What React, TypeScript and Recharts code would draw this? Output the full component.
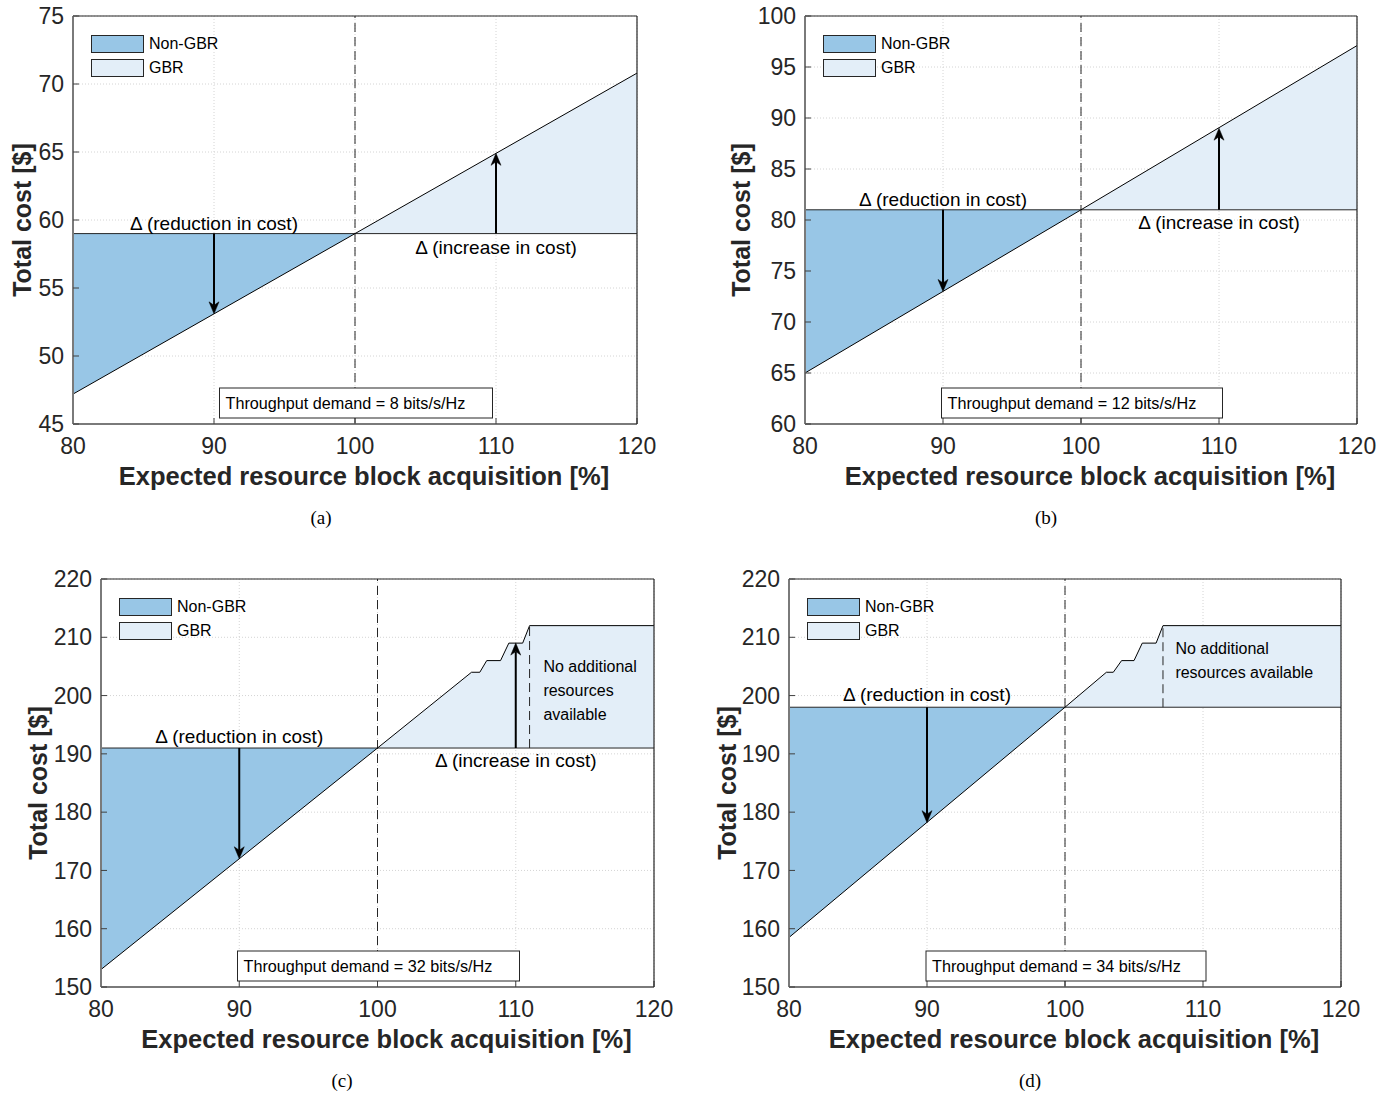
import React from 'react';
import {
  ComposedChart,
  Area,
  Line,
  XAxis,
  YAxis,
  CartesianGrid,
  ReferenceLine,
  ReferenceDot,
  Legend,
} from 'recharts';

const FONT = '"Liberation Sans", Arial, Helvetica, sans-serif';
const SERIF = '"Liberation Serif", "Times New Roman", serif';
const NON_GBR_FILL = '#98c6e6';
const GBR_FILL = '#e3eef8';
const AXIS_DARK = '#262626';

const xTicks = [80, 90, 100, 110, 120];
const seriesNames = ['Non-GBR', 'GBR'];
const xTitle = 'Expected resource block acquisition [%]';
const yTitle = 'Total cost [$]';
const reductionText = '\u0394 (reduction in cost)';
const increaseText = '\u0394 (increase in cost)';

// (a)
const aX = [80, 100, 120];
const aCost = [47.2, 59, 70.8];
const aBase = 59;
const aYTicks = [45, 50, 55, 60, 65, 70, 75];
const aArrowX = [90, 110];
const aArrowTo = [53.1, 64.9];
const aDemand = 'Throughput demand = 8 bits/s/Hz';

// (b)
const bX = [80, 100, 120];
const bCost = [65, 81, 97.1];
const bBase = 81;
const bYTicks = [60, 65, 70, 75, 80, 85, 90, 95, 100];
const bArrowX = [90, 110];
const bArrowTo = [73, 89];
const bDemand = 'Throughput demand = 12 bits/s/Hz';

// (c)
const cX = [80, 100, 106.8, 107.4, 107.9, 108.9, 109.5, 110.5, 111, 120];
const cCost = [153, 191, 204, 204, 206, 206, 209, 209, 212, 212];
const cBase = 191;
const cYTicks = [150, 160, 170, 180, 190, 200, 210, 220];
const cArrowX = [90, 110];
const cArrowTo = [172, 209];
const cCapX = 111;
const cCapTop = 212;
const cNote = ['No additional', 'resources', 'available'];
const cDemand = 'Throughput demand = 32 bits/s/Hz';

// (d)
const dX = [80, 100, 103, 103.5, 104.1, 105, 105.6, 106.6, 107.1, 120];
const dCost = [158.5, 198, 204, 204, 206, 206, 209, 209, 212, 212];
const dBase = 198;
const dYTicks = [150, 160, 170, 180, 190, 200, 210, 220];
const dArrowX = [90];
const dArrowTo = [178.2];
const dCapX = 107.1;
const dCapTop = 212;
const dNote = ['No additional', 'resources available'];
const dDemand = 'Throughput demand = 34 bits/s/Hz';

function buildRows(xs: number[], cost: number[], base: number) {
  return xs.map((x, i) => ({
    x,
    cost: cost[i],
    nonGbr: x <= 100 ? [cost[i], base] : null,
    gbr: x >= 100 ? [base, cost[i]] : null,
  }));
}

const ArrowShape = (props: any) => {
  const { x1, y1, x2, y2 } = props;
  const dir = y2 > y1 ? 1 : -1;
  const headLen = 12;
  const headW = 5;
  const notch = 3.5;
  return (
    <g>
      <line x1={x1} y1={y1} x2={x2} y2={y2 - dir * (headLen - notch)} stroke="#000" strokeWidth={2} />
      <polygon
        points={`${x2},${y2} ${x2 - headW},${y2 - dir * headLen} ${x2},${y2 - dir * (headLen - notch)} ${x2 + headW},${y2 - dir * headLen}`}
        fill="#000"
        stroke="#000"
        strokeWidth={0.5}
      />
    </g>
  );
};

type PanelProps = {
  left: number;
  top: number;
  width: number;
  height: number;
  plot: { l: number; t: number; r: number; b: number };
  xs: number[];
  cost: number[];
  base: number;
  yTicks: number[];
  arrowX: number[];
  arrowTo: number[];
  showIncreaseText: boolean;
  capX?: number;
  capTop?: number;
  note?: string[];
  noteX?: number;
  noteY?: number;
  demand: string;
  demandWidth: number;
  yTitleDist: number;
  reductionDy: number;
  increaseDy: number;
};

function Panel(p: PanelProps) {
  const YW = 60;
  const XH = 30;
  const plotL = p.plot.l - p.left;
  const plotT = p.plot.t - p.top;
  const plotR = p.plot.r - p.left;
  const plotB = p.plot.b - p.top;
  const margin = {
    top: plotT - 1,
    left: plotL - YW,
    right: p.width - plotR - 1,
    bottom: p.height - plotB - XH,
  };
  const rows = buildRows(p.xs, p.cost, p.base);
  const yDomain = [p.yTicks[0], p.yTicks[p.yTicks.length - 1]];

  const XTitle = (lp: any) => {
    const vb = lp.viewBox || {};
    return (
      <text
        x={vb.x + vb.width / 2 + 9}
        y={vb.y + 61}
        textAnchor="middle"
        fontFamily={FONT}
        fontWeight="bold"
        fontSize={25.5}
        fill={AXIS_DARK}
      >
        {xTitle}
      </text>
    );
  };
  const YTitle = (lp: any) => {
    const vb = lp.viewBox || {};
    const cx = vb.x + vb.width - p.yTitleDist;
    const cy = vb.y + vb.height / 2;
    return (
      <text
        x={cx}
        y={cy}
        transform={`rotate(-90, ${cx}, ${cy})`}
        textAnchor="middle"
        dominantBaseline="central"
        fontFamily={FONT}
        fontWeight="bold"
        fontSize={25}
        fill={AXIS_DARK}
      >
        {yTitle}
      </text>
    );
  };

  const LegendContent = () => (
    <div style={{ fontFamily: FONT, fontSize: 16, color: '#000', lineHeight: 1 }}>
      {seriesNames.map((n, i) => (
        <div key={n} style={{ display: 'flex', alignItems: 'center', height: 24 }}>
          <div
            style={{
              width: 53,
              height: 18,
              boxSizing: 'border-box',
              border: '1px solid #262626',
              background: i === 0 ? NON_GBR_FILL : GBR_FILL,
            }}
          />
          <span style={{ marginLeft: 5 }}>{n}</span>
        </div>
      ))}
    </div>
  );

  return (
    <div style={{ position: 'absolute', left: p.left, top: p.top, width: p.width, height: p.height }}>
      <ComposedChart width={p.width} height={p.height} data={rows} margin={margin}>
        <CartesianGrid stroke="#d4d4d4" strokeDasharray="1 2" />
        <XAxis
          dataKey="x"
          type="number"
          domain={[80, 120]}
          ticks={xTicks}
          height={XH}
          tickSize={-6}
          tickMargin={20}
          axisLine={{ stroke: '#7a7a7a', strokeWidth: 2 }}
          tickLine={{ stroke: '#404040' }}
          tick={{ fill: AXIS_DARK, fontSize: 23, fontFamily: FONT }}
          label={{ content: XTitle }}
        />
        <XAxis
          xAxisId="top"
          orientation="top"
          dataKey="x"
          type="number"
          domain={[80, 120]}
          ticks={xTicks}
          height={1}
          tickSize={-6}
          tick={false}
          axisLine={{ stroke: AXIS_DARK, strokeWidth: 1.2 }}
          tickLine={{ stroke: '#404040' }}
        />
        <YAxis
          type="number"
          domain={yDomain}
          ticks={p.yTicks}
          width={YW}
          tickSize={-6}
          tickMargin={15}
          axisLine={{ stroke: '#7a7a7a', strokeWidth: 2 }}
          tickLine={{ stroke: '#404040' }}
          tick={{ fill: AXIS_DARK, fontSize: 23, fontFamily: FONT }}
          label={{ content: YTitle }}
        />
        <YAxis
          yAxisId="right"
          orientation="right"
          type="number"
          domain={yDomain}
          ticks={p.yTicks}
          width={1}
          tickSize={-6}
          tick={false}
          axisLine={{ stroke: AXIS_DARK, strokeWidth: 1.2 }}
          tickLine={{ stroke: '#404040' }}
        />
        <Area
          dataKey="nonGbr"
          type="linear"
          fill={NON_GBR_FILL}
          fillOpacity={1}
          stroke="none"
          isAnimationActive={false}
          legendType="none"
        />
        <Area
          dataKey="gbr"
          type="linear"
          fill={GBR_FILL}
          fillOpacity={1}
          stroke="none"
          isAnimationActive={false}
          legendType="none"
        />
        <ReferenceLine y={p.base} stroke={AXIS_DARK} strokeWidth={1} />
        <ReferenceLine x={100} stroke={AXIS_DARK} strokeWidth={1} strokeDasharray="9 5" />
        {p.capX !== undefined && (
          <ReferenceLine
            segment={[
              { x: p.capX, y: p.base },
              { x: p.capX, y: p.capTop },
            ]}
            stroke={AXIS_DARK}
            strokeWidth={1}
            strokeDasharray="9 5"
          />
        )}
        <Line
          dataKey="cost"
          type="linear"
          stroke="#000"
          strokeWidth={1}
          dot={false}
          activeDot={false}
          isAnimationActive={false}
          legendType="none"
        />
        {p.arrowX.map((ax, i) => (
          <ReferenceLine
            key={'arr' + i}
            segment={[
              { x: ax, y: p.base },
              { x: ax, y: p.arrowTo[i] },
            ]}
            shape={ArrowShape}
          />
        ))}
        <ReferenceDot
          x={90}
          y={p.base}
          r={0}
          ifOverflow="visible"
          shape={(dp: any) => (
            <text x={dp.cx} y={dp.cy + p.reductionDy} textAnchor="middle" fontFamily={FONT} fontSize={19} fill="#000">
              {reductionText}
            </text>
          )}
        />
        {p.showIncreaseText && (
          <ReferenceDot
            x={110}
            y={p.base}
            r={0}
            ifOverflow="visible"
            shape={(dp: any) => (
              <text x={dp.cx} y={dp.cy + p.increaseDy} textAnchor="middle" fontFamily={FONT} fontSize={19} fill="#000">
                {increaseText}
              </text>
            )}
          />
        )}
        {p.note && (
          <ReferenceDot
            x={p.noteX}
            y={p.noteY}
            r={0}
            ifOverflow="visible"
            shape={(dp: any) => (
              <text x={dp.cx} y={dp.cy + 6} fontFamily={FONT} fontSize={16} fill="#000">
                {p.note!.map((ln, i) => (
                  <tspan key={i} x={dp.cx} dy={i === 0 ? 0 : 23.8}>
                    {ln}
                  </tspan>
                ))}
              </text>
            )}
          />
        )}
        <ReferenceDot
          x={100}
          y={yDomain[0]}
          r={0}
          ifOverflow="visible"
          shape={(dp: any) => {
            const bx = dp.cx - p.demandWidth / 2 + 1;
            return (
              <g>
                <rect
                  x={bx}
                  y={dp.cy - 36}
                  width={p.demandWidth}
                  height={30}
                  fill="#fff"
                  stroke={AXIS_DARK}
                  strokeWidth={1}
                />
                <text x={bx + 6} y={dp.cy - 15.5} textAnchor="start" fontFamily={FONT} fontSize={16.2} fill="#000">
                  {p.demand}
                </text>
              </g>
            );
          }}
        />
        <Legend
          layout="horizontal"
          verticalAlign="middle"
          align="center"
          content={LegendContent}
          wrapperStyle={{ position: 'absolute', left: plotL + 18, top: plotT + 16, width: 'auto', height: 'auto', margin: 0 }}
        />
      </ComposedChart>
    </div>
  );
}

const captionStyle = (x: number, y: number): React.CSSProperties => ({
  position: 'absolute',
  left: x - 30,
  top: y - 12,
  width: 60,
  textAlign: 'center',
  fontFamily: SERIF,
  fontSize: 19,
  lineHeight: '24px',
  color: '#000',
});

export default function App() {
  return (
    <div style={{ position: 'absolute', left: 0, top: 0, width: 1391, height: 1093, background: '#fff', overflow: 'hidden' }}>
      <Panel
        left={0}
        top={0}
        width={690}
        height={545}
        plot={{ l: 73, t: 16, r: 637, b: 424 }}
        xs={aX}
        cost={aCost}
        base={aBase}
        yTicks={aYTicks}
        arrowX={aArrowX}
        arrowTo={aArrowTo}
        showIncreaseText={true}
        demand={aDemand}
        demandWidth={273}
        yTitleDist={51}
        reductionDy={-4}
        increaseDy={20}
      />
      <Panel
        left={690}
        top={0}
        width={701}
        height={545}
        plot={{ l: 805, t: 16, r: 1357, b: 424 }}
        xs={bX}
        cost={bCost}
        base={bBase}
        yTicks={bYTicks}
        arrowX={bArrowX}
        arrowTo={bArrowTo}
        showIncreaseText={true}
        demand={bDemand}
        demandWidth={281}
        yTitleDist={64}
        reductionDy={-4}
        increaseDy={19}
      />
      <Panel
        left={0}
        top={545}
        width={690}
        height={548}
        plot={{ l: 101, t: 579, r: 654, b: 987 }}
        xs={cX}
        cost={cCost}
        base={cBase}
        yTicks={cYTicks}
        arrowX={cArrowX}
        arrowTo={cArrowTo}
        showIncreaseText={true}
        capX={cCapX}
        capTop={cCapTop}
        note={cNote}
        noteX={112}
        noteY={205}
        demand={cDemand}
        demandWidth={282}
        yTitleDist={63}
        reductionDy={-5}
        increaseDy={19}
      />
      <Panel
        left={690}
        top={545}
        width={701}
        height={548}
        plot={{ l: 789, t: 579, r: 1341, b: 987 }}
        xs={dX}
        cost={dCost}
        base={dBase}
        yTicks={dYTicks}
        arrowX={dArrowX}
        arrowTo={dArrowTo}
        showIncreaseText={false}
        capX={dCapX}
        capTop={dCapTop}
        note={dNote}
        noteX={108}
        noteY={208.1}
        demand={dDemand}
        demandWidth={280}
        yTitleDist={62}
        reductionDy={-6}
        increaseDy={19}
      />
      <div style={captionStyle(321, 518)}>(a)</div>
      <div style={captionStyle(1046, 518)}>(b)</div>
      <div style={captionStyle(342, 1081)}>(c)</div>
      <div style={captionStyle(1030, 1081)}>(d)</div>
    </div>
  );
}
